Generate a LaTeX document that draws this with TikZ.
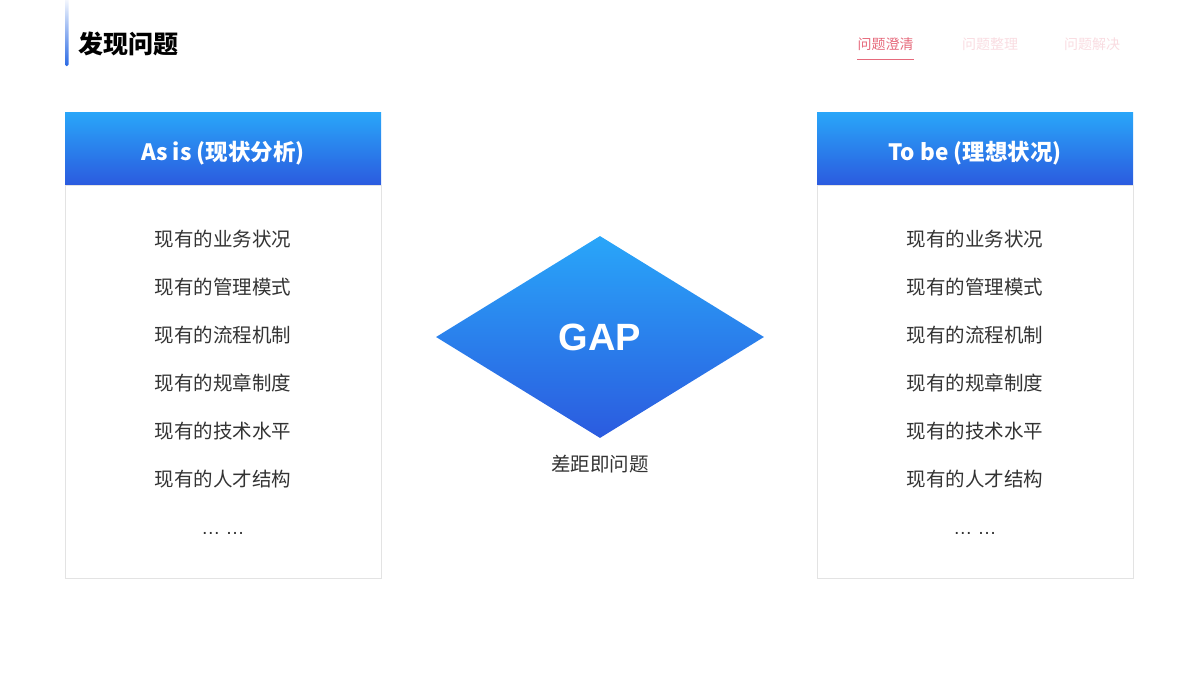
\documentclass[tikz,border=0pt]{standalone}
\usepackage{fontspec}
\usepackage{tikz}
\usetikzlibrary{positioning,shapes.geometric}
\newfontfamily\cjk{Noto Sans CJK SC}
\newfontfamily\gapfont{Liberation Sans}
\definecolor{sky-top}{HTML}{29A6F9}
\definecolor{sky-bottom}{HTML}{2B5BDF}
\definecolor{item-gray}{HTML}{333333}
\definecolor{frame-gray}{HTML}{E3E3E3}
\definecolor{tab-red}{HTML}{E66A7C}
\definecolor{tab-pale}{HTML}{F9DCE1}
\tikzset{
    head-box/.style = {rectangle, minimum width=316pt, minimum height=72pt, inner sep=0pt, text height=25pt, text depth=0pt, top color=sky-top, bottom color=sky-bottom, text=white, font=\cjk\bfseries\fontsize{22.5}{26}\selectfont},
    body-box/.style = {draw=frame-gray, fill=white, line width=0.8pt, rectangle, minimum width=316pt, minimum height=393pt, inner sep=0pt},
    item/.style = {text=item-gray, font=\cjk\fontsize{19.5}{24}\selectfont, inner sep=0pt},
    tab/.style = {font=\cjk\fontsize{14}{16}\selectfont, inner sep=0pt},
    gap-diamond/.style = {diamond, minimum width=328pt, minimum height=202pt, inner sep=0pt, top color=sky-top, bottom color=sky-bottom, text=white, font=\gapfont\bfseries\fontsize{38}{40}\selectfont},
}

\begin{document}
\begin{tikzpicture}[x=1pt, y=-1pt]
\useasboundingbox (0,0) rectangle (1200,675);
% title bar
\shade[top color=white, bottom color=sky-bottom!80!sky-top, rounded corners=1.5pt] (65,-4) rectangle (68.5,66);
\node[anchor=west, inner sep=0pt, font=\cjk\bfseries\fontsize{25}{29}\selectfont] (title) at (78,44) {发现问题};
\node[tab, text=tab-red] (tab-1) at (885.5,44) {问题澄清};
\node[tab, text=tab-pale] (tab-2) at (990,44) {问题整理};
\node[tab, text=tab-pale] (tab-3) at (1092,44) {问题解决};
\draw[tab-red, line width=1pt] ([yshift=-9pt]tab-1.south west) -- ([yshift=-9pt]tab-1.south east);

% as is
\node[body-box] (asis-body) at (223,381.5) {};
\node[head-box, above=0pt of asis-body] (asis-head) {As is (现状分析)};
\foreach \txt [count=\i] in {业务状况, 管理模式, 流程机制, 规章制度, 技术水平, 人才结构}
    \node[item] (asis-item-\i) at ([yshift={-54pt-48pt*(\i-1)}]asis-body.north) {现有的\txt};
\node[item, font=\gapfont\fontsize{19}{21}\selectfont] (asis-more) at ([yshift=-349pt]asis-body.north) {… …};

% to be
\node[body-box] (tobe-body) at (975,381.5) {};
\node[head-box, above=0pt of tobe-body] (tobe-head) {To be (理想状况)};
\foreach \txt [count=\i] in {业务状况, 管理模式, 流程机制, 规章制度, 技术水平, 人才结构}
    \node[item] (tobe-item-\i) at ([yshift={-54pt-48pt*(\i-1)}]tobe-body.north) {现有的\txt};
\node[item, font=\gapfont\fontsize{19}{21}\selectfont] (tobe-more) at ([yshift=-349pt]tobe-body.north) {… …};

% gap
\node[gap-diamond] (gap) at (600,337) {GAP};
\node[item, below=17pt of gap] (gap-note) {差距即问题};
\end{tikzpicture}
\end{document}
